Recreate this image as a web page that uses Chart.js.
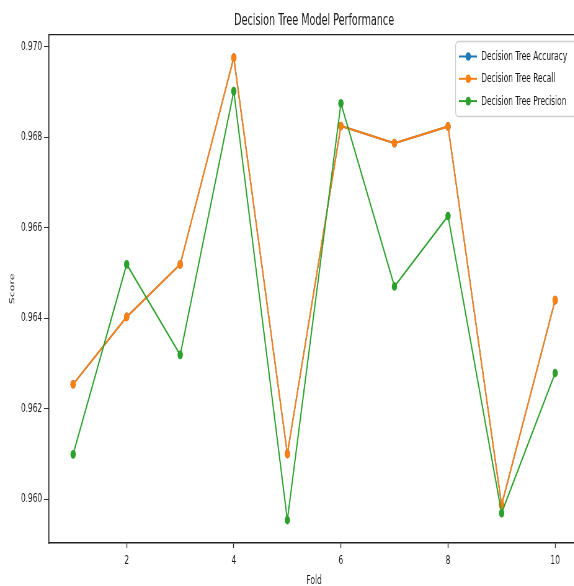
<!DOCTYPE html>
<html>
<head>
<meta charset="utf-8">
<script src="https://cdn.jsdelivr.net/npm/chart.js@4"></script>
<style>
  html, body { margin: 0; padding: 0; background: #fff; }
  #wrap { width: 574px; height: 586px; overflow: hidden; position: relative; }
  /* the reference is a horizontally squeezed render, so the canvas is drawn
     wider and shown at 627px */
  canvas { display: block; }
</style>
</head>
<body>
<div id="wrap"><canvas id="chart" width="1011" height="600" style="width:627px;height:600px"></canvas></div>
<script>
const folds = [1, 2, 3, 4, 5, 6, 7, 8, 9, 10];
const accuracy = [0.96254, 0.96403, 0.96519, 0.96976, 0.96100, 0.96825, 0.96787, 0.96824, 0.95987, 0.96440];
const recall = [0.96254, 0.96403, 0.96519, 0.96976, 0.96100, 0.96825, 0.96787, 0.96824, 0.95987, 0.96440];
const precision = [0.96099, 0.96519, 0.96319, 0.96902, 0.95954, 0.96875, 0.96470, 0.96626, 0.95969, 0.96279];
const xTicks = [2, 4, 6, 8, 10];
const yTicks = [0.960, 0.962, 0.964, 0.966, 0.968, 0.970];

const FONT = "'DejaVu Sans', sans-serif";
const TEXT = "#1a1a1a";

function series(label, values, color, order) {
  return {
    label: label,
    data: folds.map((f, i) => ({ x: f, y: values[i] })),
    borderColor: color,
    backgroundColor: color,
    borderWidth: 2,
    pointRadius: 4.3,
    pointBorderWidth: 0,
    pointHoverRadius: 4.3,
    tension: 0,
    order: order
  };
}

// top spine of the frame
const frameTop = {
  id: "frameTop",
  afterDraw(chart) {
    const { ctx, chartArea } = chart;
    ctx.save();
    ctx.strokeStyle = "#222";
    ctx.lineWidth = 1.4;
    ctx.beginPath();
    ctx.moveTo(chartArea.left, chartArea.top);
    ctx.lineTo(chartArea.right, chartArea.top);
    ctx.stroke();
    ctx.restore();
  }
};

// matplotlib style legend: box, line + marker handle, label
const boxLegend = {
  id: "boxLegend",
  afterDraw(chart) {
    const ctx = chart.ctx;
    ctx.save();
    ctx.beginPath();
    ctx.roundRect(734.5, 41.5, 260, 75, 5);
    ctx.fillStyle = "rgba(255,255,255,0.8)";
    ctx.fill();
    ctx.strokeStyle = "#cfcfcf";
    ctx.lineWidth = 1.4;
    ctx.stroke();
    chart.data.datasets.forEach((ds, i) => {
      const y = 56.5 + i * 22.3;
      ctx.strokeStyle = ds.borderColor;
      ctx.lineWidth = 2;
      ctx.beginPath();
      ctx.moveTo(740, y);
      ctx.lineTo(769, y);
      ctx.stroke();
      ctx.fillStyle = ds.borderColor;
      ctx.beginPath();
      ctx.arc(755, y, 4.3, 0, Math.PI * 2);
      ctx.fill();
      ctx.fillStyle = TEXT;
      ctx.font = "12px " + FONT;
      ctx.textBaseline = "middle";
      ctx.textAlign = "left";
      ctx.fillText(ds.label, 776, y + 0.5);
    });
    ctx.restore();
  }
};

new Chart(document.getElementById("chart"), {
  type: "line",
  data: {
    datasets: [
      series("Decision Tree Accuracy", accuracy, "#1f77b4", 3),
      series("Decision Tree Recall", recall, "#ff7f0e", 2),
      series("Decision Tree Precision", precision, "#2ca02c", 1)
    ]
  },
  options: {
    responsive: false,
    animation: false,
    devicePixelRatio: 1,
    layout: { padding: { left: 0, right: 77, top: 0, bottom: 0 } },
    plugins: {
      legend: { display: false },
      tooltip: { enabled: false },
      title: {
        display: true,
        fullSize: false,
        text: "Decision Tree Model Performance",
        color: TEXT,
        font: { family: FONT, size: 15.5, weight: "normal" },
        padding: { top: 12, bottom: 4 }
      }
    },
    scales: {
      x: {
        type: "linear",
        min: 0.55,
        max: 10.45,
        afterFit: s => { s.height = 57; },
        afterBuildTicks: s => { s.ticks = xTicks.map(v => ({ value: v })); },
        grid: { drawOnChartArea: false, drawTicks: true, tickLength: 5, tickColor: "#333", tickWidth: 1.4 },
        border: { display: true, color: "#222", width: 1.4 },
        ticks: {
          color: TEXT,
          padding: 6,
          maxRotation: 0,
          font: { family: FONT, size: 12 },
          callback: v => String(v)
        },
        title: {
          display: true,
          text: "Fold",
          color: TEXT,
          font: { family: FONT, size: 12 },
          padding: { top: 0, bottom: 12 }
        }
      },
      y: {
        type: "linear",
        min: 0.95903,
        max: 0.97027,
        afterFit: s => { s.width = 79; },
        afterBuildTicks: s => { s.ticks = yTicks.map(v => ({ value: v })); },
        grid: { drawOnChartArea: false, drawTicks: true, tickLength: 8, tickColor: "#333", tickWidth: 1 },
        border: { display: true, color: "#222", width: 1.6 },
        ticks: {
          color: TEXT,
          padding: 3,
          font: { family: FONT, size: 12 },
          callback: v => v.toFixed(3)
        },
        title: {
          display: true,
          text: "Score",
          color: TEXT,
          font: { family: FONT, size: 11 },
          padding: { top: 14, bottom: 0 }
        }
      }
    }
  },
  plugins: [frameTop, boxLegend]
});
</script>
</body>
</html>
